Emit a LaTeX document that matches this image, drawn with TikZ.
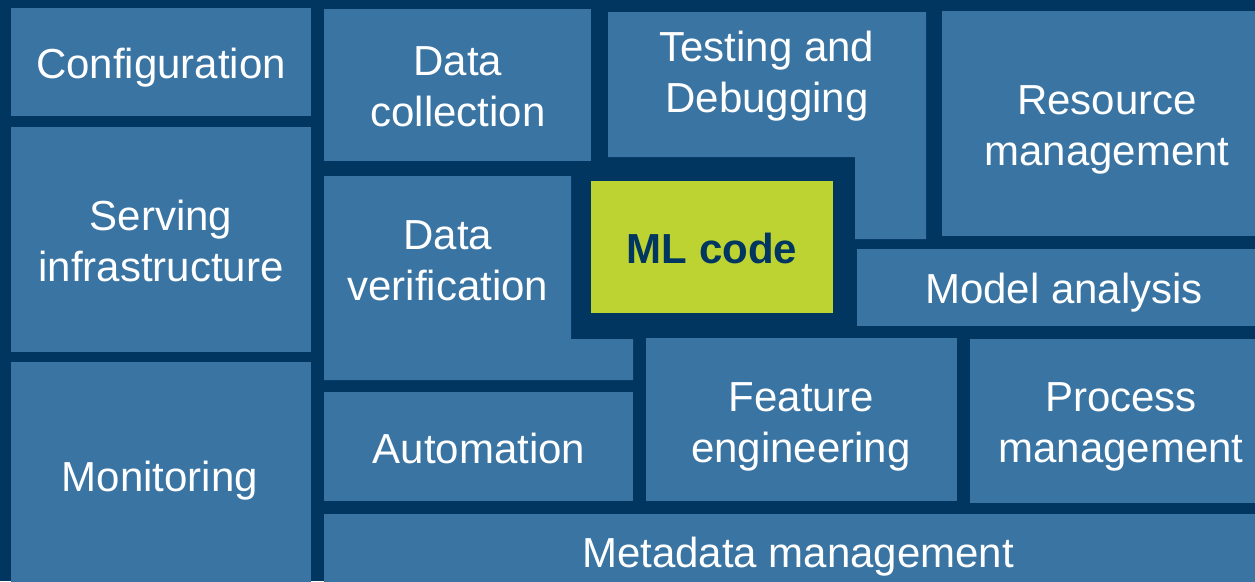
\documentclass[tikz,border=0pt]{standalone}
\usepackage{fontspec}
\setmainfont{Liberation Sans}
\definecolor{navy}{RGB}{0,54,96}
\definecolor{tile}{RGB}{57,116,163}
\definecolor{lime}{RGB}{189,211,50}
\tikzset{
  tilefill/.style={fill=tile},
  lbl/.style={anchor=base, inner sep=0pt, align=center, text=white,
    font=\fontsize{42}{51}\selectfont},
}
\begin{document}
\begin{tikzpicture}[x=1pt,y=-1pt]
\useasboundingbox (0,0) rectangle (1255,581);
\clip (0,0) rectangle (1255,581);
\fill[navy] (0,0) rectangle (1255,581);
% tiles
\fill[tilefill] (11,8) rectangle (311,116);
\fill[tilefill] (11,127) rectangle (311,352);
\fill[tilefill] (11,362) rectangle (311,595);
\fill[tilefill] (324,9) rectangle (591,161);
\fill[tilefill] (608,12) -- (926,12) -- (926,239) -- (855,239) -- (855,157) -- (608,157) -- cycle;
\fill[tilefill] (942,11) rectangle (1275,236);
\fill[tilefill] (324,176) -- (571,176) -- (571,339) -- (633,339) -- (633,380) -- (324,380) -- cycle;
\fill[lime] (591,181) rectangle (833,313);
\fill[tilefill] (857,249) rectangle (1275,326);
\fill[tilefill] (324,392) rectangle (633,501);
\fill[tilefill] (646,338) rectangle (957,501);
\fill[tilefill] (970,339) rectangle (1275,503);
\fill[tilefill] (324,514) rectangle (1275,595);
% labels (multi-line: base = baseline of last line)
\node[lbl] (config) at (161,78) {Configuration};
\node[lbl] (datacoll) at (458,126) {Data\\collection};
\node[lbl] (testing) at (767,112) {Testing and\\Debugging};
\node[lbl] (resource) at (1107,165) {Resource\\management};
\node[lbl] (serving) at (161,281) {Serving\\infrastructure};
\node[lbl] (monitor) at (160,491) {Monitoring};
\node[lbl] (dataver) at (448,300) {Data\\verification};
\node[lbl, text=navy, font=\fontsize{42}{51}\selectfont\bfseries] (mlcode) at (712,263) {ML code};
\node[lbl] (model) at (1064,303) {Model analysis};
\node[lbl] (auto) at (479,463) {Automation};
\node[lbl] (feature) at (801,462) {Feature\\engineering};
\node[lbl] (process) at (1121,462) {Process\\management};
\node[lbl] (meta) at (798,567) {Metadata management};
\end{tikzpicture}
\end{document}
